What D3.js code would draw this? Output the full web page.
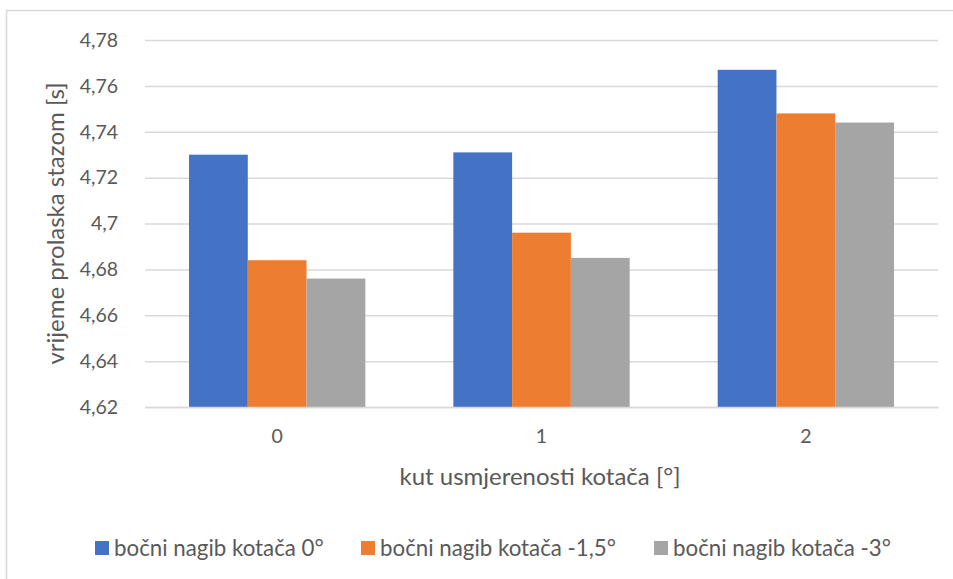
<!DOCTYPE html>
<html>
<head>
<meta charset="utf-8">
<script src="https://cdn.jsdelivr.net/npm/d3@7"></script>
<style>
  html, body { margin: 0; padding: 0; background: #fff; }
  svg { display: block; }
  text { font-family: Lato, "Open Sans", sans-serif; fill: #595959; }
</style>
</head>
<body>
<svg id="chart" width="953" height="579"></svg>
<script>
// Steering angle groups and lap times per camber setting
const categories = ["0", "1", "2"];
const seriesNames = ["bočni nagib kotača 0°", "bočni nagib kotača -1,5°", "bočni nagib kotača -3°"];
const camber0 = [4.730, 4.731, 4.767];
const camberMinus15 = [4.684, 4.696, 4.748];
const camberMinus3 = [4.676, 4.685, 4.744];
const yTicks = [4.62, 4.64, 4.66, 4.68, 4.70, 4.72, 4.74, 4.76, 4.78];
const colors = ["#4472C4", "#ED7D31", "#A5A5A5"];

const series = [camber0, camberMinus15, camberMinus3];

const svg = d3.select("#chart");

// chart frame
svg.append("rect")
  .attr("x", 6.5).attr("y", 10.5)
  .attr("width", 960).attr("height", 600)
  .attr("fill", "none").attr("stroke", "#D9D9D9").attr("stroke-width", 1.5);

const plot = { left: 145, right: 938, top: 40, bottom: 407 };

const x0 = d3.scaleBand()
  .domain(categories)
  .range([plot.left, plot.right])
  .paddingInner(0.333)
  .paddingOuter(0.1665);

const x1 = d3.scaleBand()
  .domain(d3.range(series.length))
  .range([0, x0.bandwidth()]);

const y = d3.scaleLinear()
  .domain([4.62, 4.78])
  .range([plot.bottom, plot.top]);

// horizontal gridlines
const yAxis = d3.axisLeft(y)
  .tickValues(yTicks)
  .tickSize(-(plot.right - plot.left))
  .tickPadding(27)
  .tickFormat(d => d3.format(".2~f")(d).replace(".", ","));

const gy = svg.append("g")
  .attr("transform", `translate(${plot.left},0)`)
  .call(yAxis);
gy.select(".domain").remove();
gy.selectAll(".tick line").attr("stroke", "#D9D9D9").attr("stroke-width", 1.5);
gy.selectAll(".tick text").style("font-size", "19.5px").attr("fill", "#595959");

// bars
const groups = svg.append("g").selectAll("g")
  .data(categories)
  .join("g")
  .attr("transform", d => `translate(${x0(d)},0)`);

groups.selectAll("rect")
  .data((c, i) => series.map((s, k) => ({ k, v: s[i] })))
  .join("rect")
  .attr("x", d => x1(d.k))
  .attr("width", x1.bandwidth())
  .attr("y", d => y(d.v))
  .attr("height", d => y(4.62) - y(d.v))
  .attr("fill", d => colors[d.k]);

// category axis
const xAxis = d3.axisBottom(x0).tickSize(0).tickPadding(22);
const gx = svg.append("g")
  .attr("transform", `translate(0,${plot.bottom})`)
  .call(xAxis);
gx.select(".domain").attr("stroke", "#D9D9D9").attr("stroke-width", 1.5);
gx.selectAll(".tick text").style("font-size", "19.5px").attr("fill", "#595959");

// axis titles
svg.append("text")
  .attr("x", 540)
  .attr("y", 485)
  .attr("text-anchor", "middle")
  .style("font-size", "24px")
  .text("kut usmjerenosti kotača [°]");

svg.append("text")
  .attr("transform", `translate(64,${(plot.top + plot.bottom) / 2}) rotate(-90)`)
  .attr("text-anchor", "middle")
  .style("font-size", "24px")
  .text("vrijeme prolaska stazom [s]");

// legend
const legendX = [95, 361, 654];
const legend = svg.append("g").selectAll("g")
  .data(seriesNames)
  .join("g")
  .attr("transform", (d, i) => `translate(${legendX[i]},541)`);
legend.append("rect")
  .attr("width", 14).attr("height", 14)
  .attr("fill", (d, i) => colors[i]);
legend.append("text")
  .attr("x", 19).attr("y", 14.5)
  .style("font-size", "22.3px")
  .text(d => d);
</script>
</body>
</html>
